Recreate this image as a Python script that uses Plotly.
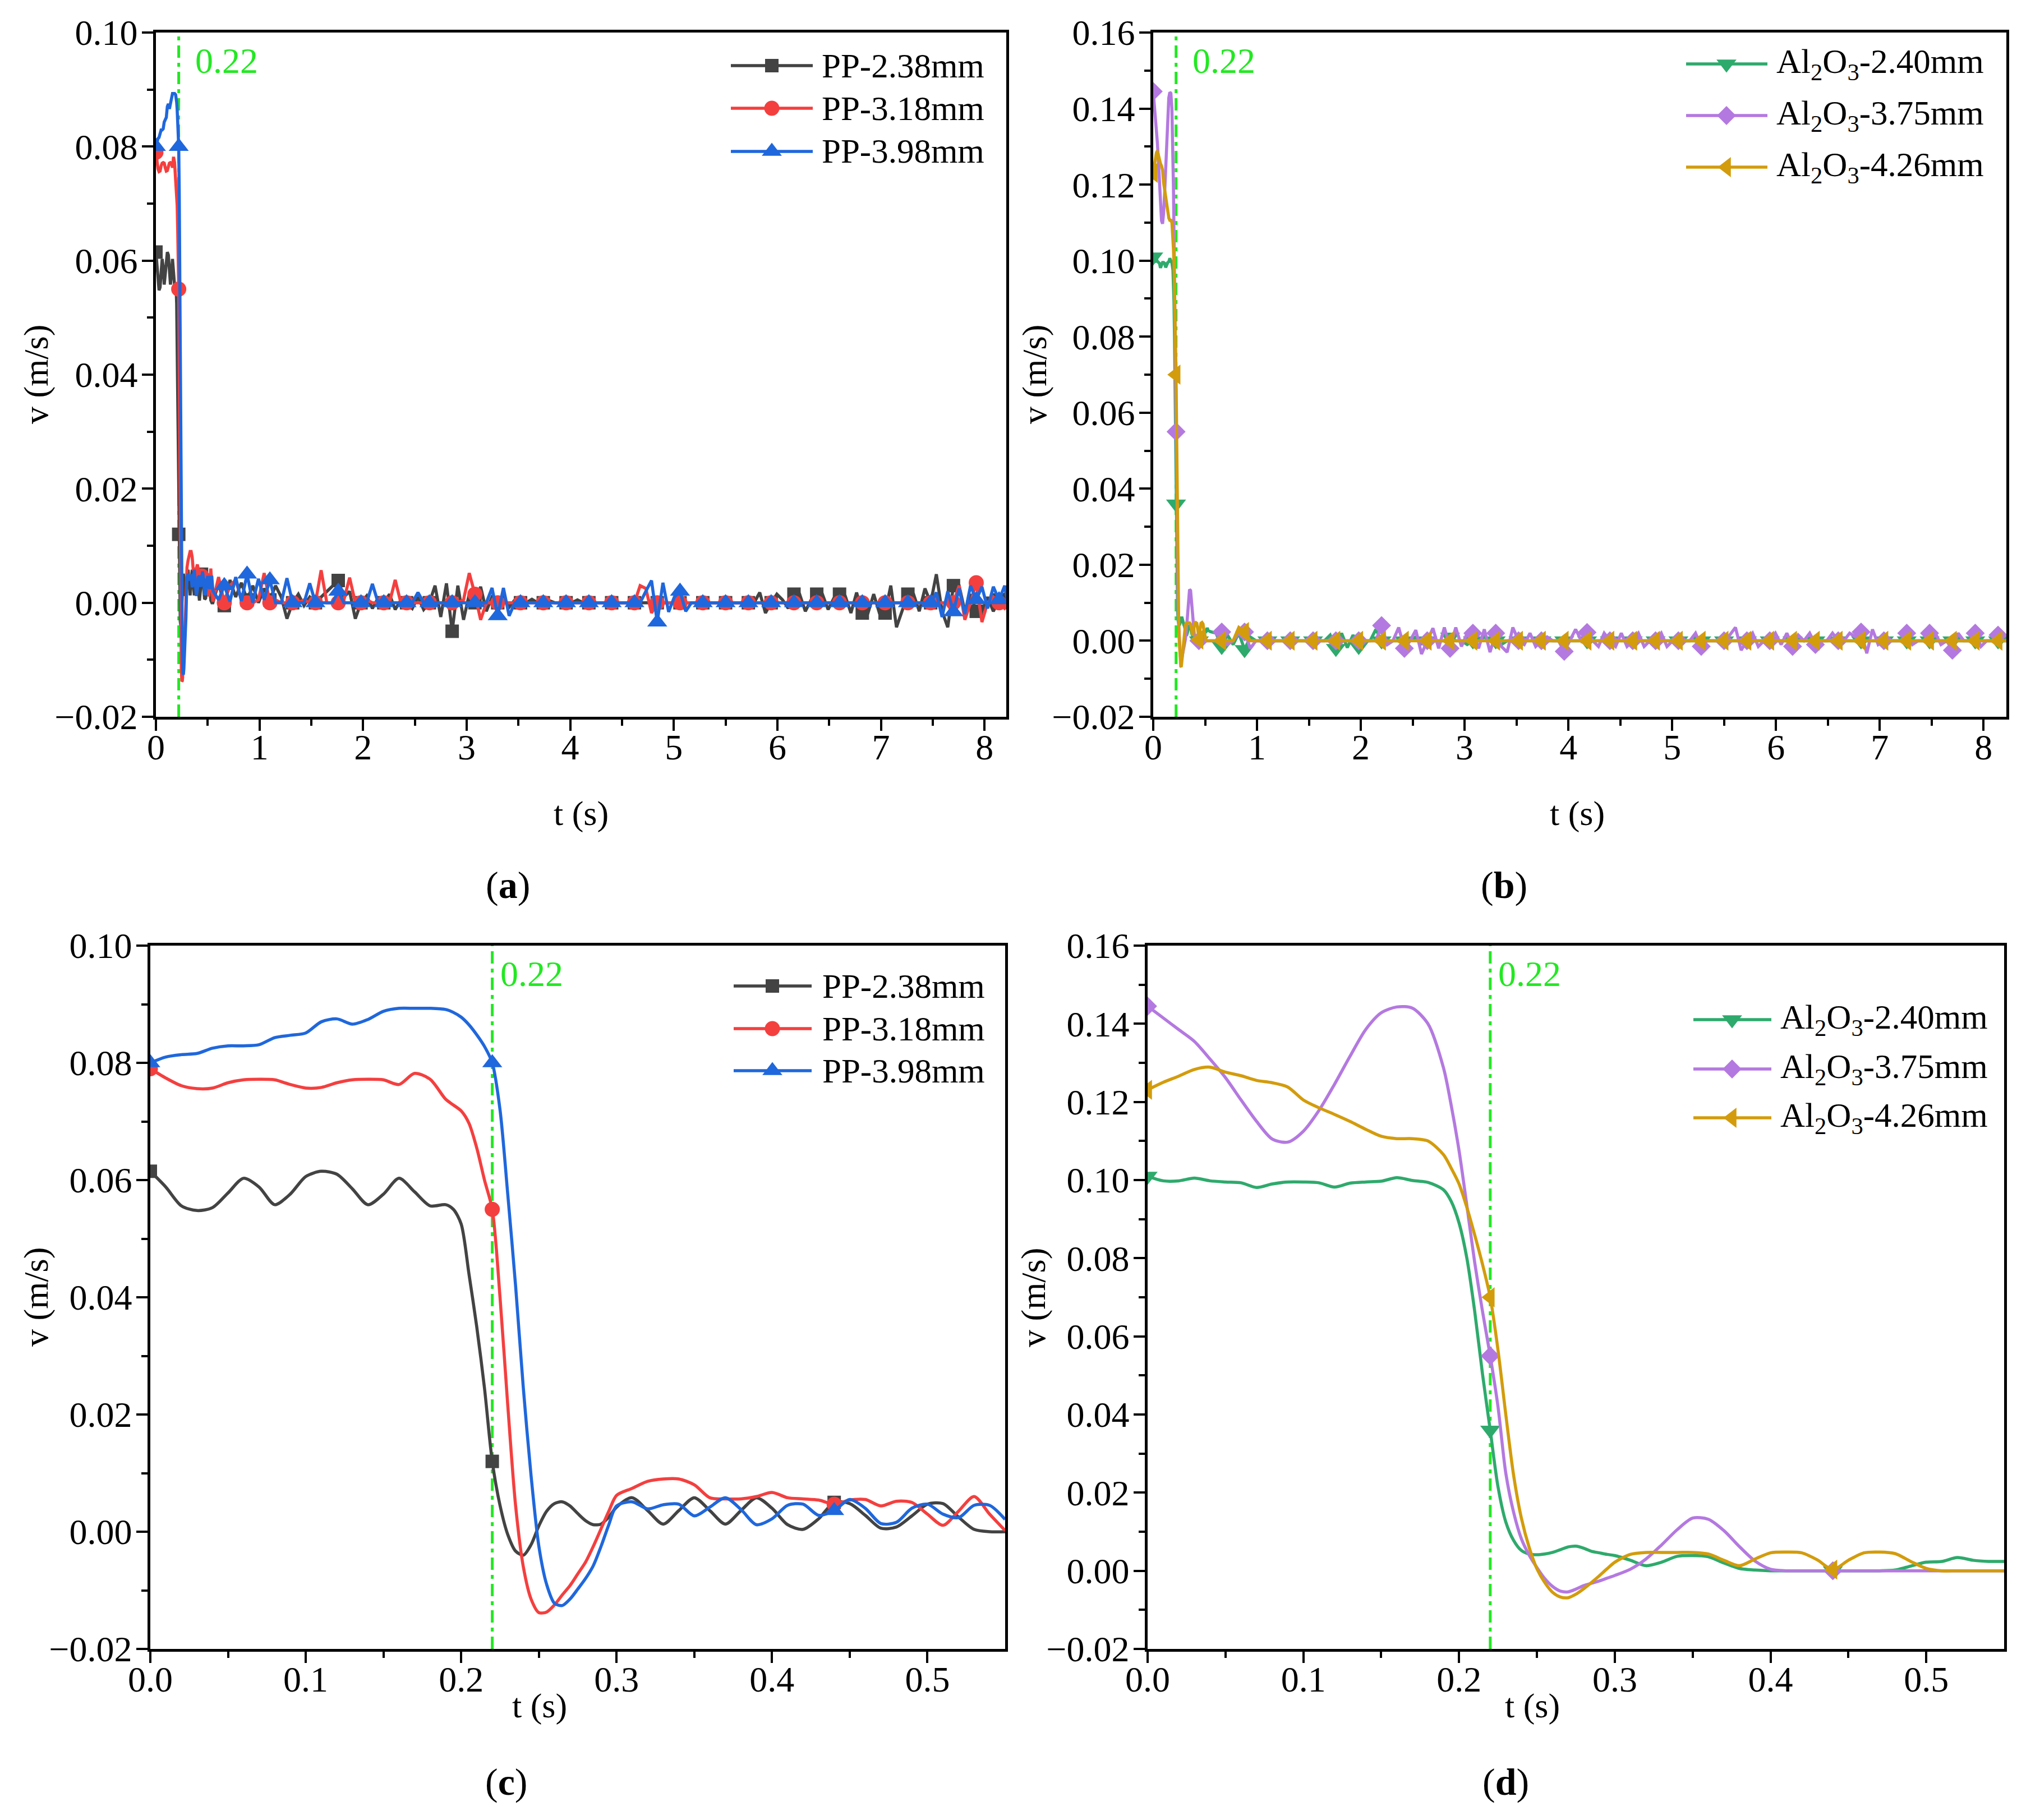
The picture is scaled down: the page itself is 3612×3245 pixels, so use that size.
import numpy as np
import plotly.graph_objects as go

W, H = 3612, 3245
FONT = "Liberation Serif"

# ---------------------------------------------------------------- data
# fine time base (s): panels (c)/(d) and the first 0.55 s of (a)/(b)
t_fine = [0.00, 0.01, 0.02, 0.03, 0.04, 0.05, 0.06, 0.07, 0.08, 0.09,
          0.10, 0.11, 0.12, 0.13, 0.14, 0.15, 0.16, 0.17, 0.18, 0.19,
          0.195, 0.20, 0.205, 0.21, 0.215, 0.22, 0.225, 0.23, 0.235, 0.24,
          0.245, 0.25, 0.255, 0.26, 0.265, 0.27, 0.275, 0.28, 0.285, 0.29,
          0.295, 0.30, 0.31, 0.32, 0.33, 0.34, 0.35, 0.36, 0.37, 0.38,
          0.39, 0.40, 0.41, 0.42, 0.43, 0.44, 0.45, 0.46, 0.47, 0.48,
          0.49, 0.50, 0.51, 0.52, 0.53, 0.54, 0.55]

# velocity (m/s) on t_fine
v_pp238_fine = [0.0615, 0.0588, 0.0556, 0.0548, 0.0553, 0.0578, 0.0603, 0.0588, 0.0558, 0.0576,
                0.0606, 0.0615, 0.0610, 0.0585, 0.0558, 0.0576, 0.0603, 0.0580, 0.0556, 0.0558,
                0.0550, 0.0525, 0.0440, 0.0350, 0.0245, 0.0120, 0.0045, -0.0005, -0.0033, -0.0040,
                -0.0022, 0.0010, 0.0035, 0.0048, 0.0051, 0.0044, 0.0031, 0.0019, 0.0012, 0.0013,
                0.0025, 0.0042, 0.0058, 0.0036, 0.0013, 0.0036, 0.0058, 0.0036, 0.0013, 0.0036,
                0.0058, 0.0040, 0.0012, 0.0004, 0.0022, 0.0050, 0.0048, 0.0028, 0.0006, 0.0008,
                0.0027, 0.0047, 0.0048, 0.0025, 0.0004, 0.0000, 0.0000]
v_pp318_fine = [0.0790, 0.0774, 0.0761, 0.0756, 0.0757, 0.0766, 0.0771, 0.0772, 0.0771, 0.0763,
                0.0757, 0.0758, 0.0766, 0.0771, 0.0772, 0.0771, 0.0763, 0.0782, 0.0772, 0.0738,
                0.0728, 0.0718, 0.0697, 0.0655, 0.0600, 0.0550, 0.0400, 0.0215, 0.0045, -0.0060,
                -0.0115, -0.0138, -0.0137, -0.0125, -0.0108, -0.0092, -0.0072, -0.0052, -0.0025, 0.0005,
                0.0035, 0.0062, 0.0074, 0.0086, 0.0090, 0.0090, 0.0080, 0.0058, 0.0056, 0.0056,
                0.0060, 0.0067, 0.0058, 0.0056, 0.0054, 0.0047, 0.0054, 0.0055, 0.0044, 0.0052,
                0.0050, 0.0030, 0.0011, 0.0035, 0.0060, 0.0030, 0.0002]
v_pp398_fine = [0.0800, 0.0810, 0.0814, 0.0816, 0.0825, 0.0829, 0.0829, 0.0831, 0.0843, 0.0847,
                0.0851, 0.0870, 0.0875, 0.0866, 0.0874, 0.0888, 0.0893, 0.0893, 0.0893, 0.0891,
                0.0886, 0.0878, 0.0865, 0.0848, 0.0828, 0.0800, 0.0720, 0.0575, 0.0420, 0.0245,
                0.0095, -0.0025, -0.0090, -0.0122, -0.0126, -0.0115, -0.0098, -0.0080, -0.0058, -0.0025,
                0.0012, 0.0044, 0.0051, 0.0039, 0.0046, 0.0047, 0.0027, 0.0042, 0.0058, 0.0038,
                0.0012, 0.0022, 0.0045, 0.0047, 0.0028, 0.0036, 0.0055, 0.0040, 0.0014, 0.0016,
                0.0040, 0.0047, 0.0030, 0.0024, 0.0045, 0.0045, 0.0021]
v_al240_fine = [0.1010, 0.0998, 0.0998, 0.1005, 0.0998, 0.0995, 0.0993, 0.0981, 0.0990, 0.0995,
                0.0995, 0.0993, 0.0982, 0.0992, 0.0995, 0.0997, 0.1006, 0.0999, 0.0994, 0.0975,
                0.0945, 0.0890, 0.0800, 0.0665, 0.0505, 0.0360, 0.0215, 0.0125, 0.0078, 0.0052,
                0.0043, 0.0041, 0.0043, 0.0047, 0.0054, 0.0061, 0.0063, 0.0058, 0.0050, 0.0046,
                0.0042, 0.0039, 0.0027, 0.0013, 0.0022, 0.0037, 0.0039, 0.0036, 0.0020, 0.0006,
                0.0002, 0.0000, 0.0000, 0.0000, 0.0000, 0.0000, 0.0000, 0.0000, 0.0000, 0.0002,
                0.0012, 0.0022, 0.0024, 0.0034, 0.0027, 0.0024, 0.0024]
v_al375_fine = [0.1445, 0.1415, 0.1385, 0.1355, 0.1310, 0.1262, 0.1205, 0.1150, 0.1105, 0.1097,
                0.1125, 0.1178, 0.1245, 0.1317, 0.1385, 0.1428, 0.1443, 0.1440, 0.1400, 0.1287,
                0.1190, 0.1075, 0.0935, 0.0790, 0.0665, 0.0550, 0.0420, 0.0250, 0.0150, 0.0082,
                0.0040, 0.0008, -0.0020, -0.0040, -0.0052, -0.0054, -0.0047, -0.0038, -0.0032, -0.0026,
                -0.0019, -0.0012, 0.0004, 0.0030, 0.0066, 0.0105, 0.0135, 0.0132, 0.0103, 0.0062,
                0.0025, 0.0004, 0.0000, 0.0000, 0.0000, 0.0000, 0.0000, 0.0000, 0.0000, 0.0000,
                0.0000, 0.0000, 0.0000, 0.0000, 0.0000, 0.0000, 0.0000]
v_al426_fine = [0.1231, 0.1250, 0.1266, 0.1283, 0.1289, 0.1276, 0.1267, 0.1255, 0.1249, 0.1238,
                0.1205, 0.1185, 0.1168, 0.1150, 0.1130, 0.1112, 0.1106, 0.1106, 0.1100, 0.1065,
                0.1030, 0.0990, 0.0930, 0.0860, 0.0785, 0.0700, 0.0565, 0.0400, 0.0245, 0.0135,
                0.0060, 0.0005, -0.0030, -0.0055, -0.0067, -0.0069, -0.0060, -0.0046, -0.0030, -0.0013,
                0.0005, 0.0022, 0.0042, 0.0047, 0.0047, 0.0047, 0.0047, 0.0043, 0.0027, 0.0013,
                0.0030, 0.0046, 0.0048, 0.0046, 0.0028, 0.0003, 0.0027, 0.0046, 0.0048, 0.0044,
                0.0024, 0.0006, 0.0000, 0.0000, 0.0000, 0.0000, 0.0000]

# tail, t = 0.605 ... 8.25 s every 0.055 s, velocity in mm/s
v_pp238_tail = [3.5, -0.5, 4.0, 1.0, 3.5, 0.5, 3.0, 0.0, 2.5, 0.5, 3.0, 1.0, -2.8, 0.0, 1.5, -0.5, 1.0, 0.0, 1.0, 2.0,
                3.0, 3.9, 1.0, 2.0, -2.8, 0.0, 1.2, -1.0, 0.8, 0.0, 1.5, -1.2, 0.5, 0.0, -1.0, 1.0, -1.2, 0.0, 3.0, -2.5,
                3.4, -5.0, 3.0, -3.0, 1.5, 0.0, 2.8, -1.5, 1.0, 0.0, 1.2, -0.8, 0.5, 0.0, 0.0, 0.6, 0.0, 0.0, 0.4, 0.0,
                0.0, 0.0, 0.0, 0.5, 0.0, 0.0, 0.0, 0.0, 0.0, 0.0, 0.0, 0.0, 0.0, 0.0, 0.0, 0.0, 0.0, 0.0, 0.0, 0.0,
                0.0, 0.0, 0.0, 0.0, 0.0, 0.0, 0.0, 0.0, 0.0, 0.0, 0.0, 0.0, 0.0, 0.0, 0.0, 1.8, -1.8, 0.0, 1.5, 0.5,
                -1.0, 1.5, 1.5, -1.5, 0.5, 1.5, 1.5, -1.2, 0.8, 1.5, 1.2, -1.8, 1.8, -1.8, -1.8, 1.5, -1.8, -1.8, 3.0, -4.3,
                -1.5, 1.5, 1.5, -1.5, 2.5, 0.0, 5.0, -1.5, -4.3, 3.0, 3.0, -1.5, 1.5, -1.5, -1.5, 1.0, -1.5, 0.5, 1.5, -1.0]
v_pp318_tail = [4.5, 0.0, 3.0, 4.0, 0.5, 0.0, 0.0, 0.5, 5.2, 0.0, 0.5, 0.0, 0.0, 0.0, 0.0, 0.5, 0.0, 0.0, 5.7, 0.0,
                0.0, 0.0, 0.5, 4.4, 0.0, 0.0, 0.5, 0.0, 0.0, 0.0, 0.0, 4.0, 0.0, 0.0, 0.0, 0.0, 0.0, 0.0, 0.0, 0.0,
                0.0, 0.0, 0.0, 0.5, 5.2, 1.5, -3.0, 0.0, 0.0, 0.0, 0.0, 0.0, 0.0, 0.0, 0.0, 0.0, 0.0, 0.0, 0.0, 0.0,
                0.0, 0.0, 0.0, 0.0, 0.0, 0.0, 0.0, 0.0, 0.0, 0.0, 0.0, 0.0, 0.0, 0.0, 3.0, 2.5, -1.8, 0.0, 0.0, 0.0,
                0.0, 0.0, 0.0, 0.0, 0.0, 0.0, 0.0, 0.0, 0.0, 0.0, 0.0, 0.0, 0.0, 0.0, 0.0, 0.0, 0.0, 0.0, 0.0, 0.0,
                0.0, 0.0, 0.0, 0.0, 0.0, 0.0, 0.0, 0.0, 0.0, 0.0, 0.0, 0.0, 0.0, 0.0, 0.0, 0.0, 0.0, 0.0, 0.0, 0.0,
                0.0, 0.0, 0.0, 0.0, 0.0, 0.0, 0.0, 0.0, 0.0, 0.0, 3.0, -3.0, 0.0, 3.5, -3.4, 0.0, 1.0, 0.0, -1.0, 0.0]
v_pp398_tail = [0.5, 3.0, 0.2, 4.5, 0.3, 5.0, 0.0, 4.2, 0.5, 4.0, 0.0, 0.0, 4.3, 0.0, 0.0, 0.0, 3.4, 0.0, 0.0, 0.0,
                0.0, 2.0, 0.0, 0.0, 0.0, 0.0, 0.0, 3.3, 0.0, 0.0, 0.0, 0.0, 0.0, 0.0, 0.0, 1.8, 0.0, 0.0, 0.0, 0.0,
                0.0, 0.0, 0.0, 0.0, 0.0, 0.0, 0.0, 0.0, 2.6, -2.3, 2.6, -2.3, 0.0, 0.0, 0.0, 0.0, 0.0, 0.0, 0.0, 0.0,
                0.0, 0.0, 0.0, 0.0, 0.0, 0.0, 0.0, 0.0, 0.0, 0.0, 0.0, 0.0, 0.0, 0.0, 0.0, 2.0, 3.9, -3.4, 3.5, -1.6,
                1.0, 2.0, -1.5, 0.0, 0.0, 0.0, 0.0, 0.0, 0.0, 0.0, 0.0, 0.0, 0.0, 0.0, 0.0, 0.0, 0.0, 0.0, 0.0, 0.0,
                0.0, 0.0, 0.0, 0.0, 0.0, 0.0, 0.0, 0.0, 0.0, 0.0, 0.0, 0.0, 0.0, 0.0, 0.0, 0.0, 0.0, 0.0, 0.0, 0.0,
                0.0, 0.0, 0.0, 0.0, 0.0, 0.0, 1.8, -2.5, 2.0, -1.6, 2.5, -2.0, 3.0, 0.5, 2.8, -1.0, 2.8, 0.5, 3.0, -2.5]
v_al240_tail = [2.0, -1.5, 1.5, -1.0, 2.0, -2.3, 1.0, 0.0, 0.0, 0.0, 0.0, 0.0, 0.0, 0.0, 0.0, 0.0, 0.0, 0.0, 0.0, 0.0,
                1.5, -2.0, 2.0, -1.8, 1.5, -1.5, 0.0, 0.0, 3.0, 0.0, -1.0, 0.0, 0.0, 0.0, 0.0, 1.0, -0.8, 0.0, 0.0, 0.0,
                0.0, 1.0, 0.0, 0.0, -1.0, 0.0, 0.0, 1.0, 0.0, 0.0, -1.0, 0.0, 0.0, 0.0, 0.0, 0.0, 0.0, 0.0, 0.0, 0.0,
                0.0, 0.0, 0.0, 0.0, 0.0, 0.0, 0.0, 0.0, 0.0, 0.0, 0.0, 0.0, 0.0, 0.0, 0.0, 0.0, 0.0, 0.0, 0.0, 0.0,
                0.0, 0.0, 0.0, 0.0, 0.0, 0.0, 0.0, 0.0, 0.0, 0.0, 0.0, 0.0, 0.0, 0.0, 0.0, 0.0, 0.0, 0.0, 0.0, 0.0,
                0.0, 0.0, 0.0, 0.0, 0.0, 0.0, 0.0, 0.0, 0.0, 0.0, 0.0, 0.0, 0.0, 0.0, 0.0, 0.0, 0.0, 0.0, 0.0, 0.0,
                0.0, 0.0, 0.0, 0.0, 0.0, 0.0, 0.0, 0.0, 0.0, 0.0, 0.0, 0.0, 0.0, 0.0, 0.0, 0.0, 0.0, 0.0, 0.0, 0.0]
v_al375_tail = [0.0, 2.3, -1.0, 0.0, 2.0, 2.3, -2.0, 0.0, 0.0, 0.0, 0.0, 0.0, 0.0, 0.0, 0.0, 0.0, 0.0, 0.0, 0.0, 0.0,
                0.0, 0.0, 0.0, 0.0, 0.0, 0.0, 0.0, 0.0, 0.0, 4.0, -1.0, 0.0, 3.5, -2.0, 0.0, 2.8, -3.5, 0.0, 3.3, -2.0,
                3.5, -2.0, 3.5, -1.5, 2.0, 2.0, -2.0, 3.0, -3.0, 2.0, -1.5, -3.0, 3.5, 0.0, -1.0, 2.0, -1.5, 0.0, 1.0, 0.0,
                0.0, -2.8, 0.0, 3.0, 0.0, 2.2, 0.0, -1.5, 2.0, 0.0, -1.5, 2.0, -1.5, 0.0, 2.0, -1.5, 0.0, 0.0, 2.0, -1.5,
                0.0, 0.0, 0.0, 0.0, 2.0, -1.5, 0.0, 0.0, 0.0, 0.0, 1.5, 3.5, -2.5, 0.0, 2.0, -1.5, 0.0, 0.0, 2.0, -1.0,
                2.0, -1.5, 1.5, 0.0, 2.0, -1.0, 0.0, 0.0, 2.0, 0.0, 0.0, 2.0, 1.0, 2.3, -3.3, 3.0, -1.0, 0.0, 0.0, 0.0,
                0.0, 2.0, -1.0, 0.0, 0.0, 2.0, 2.0, -1.0, 0.0, -2.5, 2.0, 0.0, 0.0, 2.0, -1.5, 0.0, 0.0, 1.5, 0.0, 0.0]
v_al426_tail = [0.0, 0.0, 0.0, 0.0, 3.5, 2.3, 0.0, 0.0, 0.0, 0.0, 0.0, 0.0, 0.0, 0.0, 0.0, 0.0, 0.0, 0.0, 0.0, 0.0,
                0.0, 0.0, 0.0, 0.0, 0.0, 0.0, 0.0, 0.0, 0.0, 0.0, 0.0, 0.0, 0.0, 0.0, 0.0, 0.0, 0.0, 0.0, 0.0, 0.0,
                0.0, 0.0, 0.0, 0.0, 0.0, 0.0, 0.0, 0.0, 0.0, 0.0, 0.0, 0.0, 0.0, 0.0, 0.0, 0.0, 0.0, 0.0, 0.0, 0.0,
                0.0, 0.0, 0.0, 0.0, 0.0, 0.0, 0.0, 0.0, 0.0, 0.0, 0.0, 0.0, 0.0, 0.0, 0.0, 0.0, 0.0, 0.0, 0.0, 0.0,
                0.0, 0.0, 0.0, 0.0, 0.0, 0.0, 0.0, 0.0, 0.0, 0.0, 0.0, 0.0, 0.0, 0.0, 0.0, 0.0, 0.0, 0.0, 0.0, 0.0,
                0.0, 0.0, 0.0, 0.0, 0.0, 0.0, 0.0, 0.0, 0.0, 0.0, 0.0, 0.0, 0.0, 0.0, 0.0, 0.0, 0.0, 0.0, 0.0, 0.0,
                0.0, 0.0, 0.0, 0.0, 0.0, 0.0, 0.0, 0.0, 0.0, 0.0, 0.0, 0.0, 0.0, 0.0, 0.0, 0.0, 0.0, 0.0, 0.0, 0.0]

TAIL_DT = 0.055          # sampling step of the tail (s)
T_EVENT = 0.22           # marked instant (s); symbols every 0.22 s
t_tail = [round(0.55 + TAIL_DT * k, 3) for k in range(1, len(v_pp238_tail) + 1)]

PP_SERIES = [
    ("PP-2.38mm", v_pp238_fine, v_pp238_tail, "#434343", "square", 24),
    ("PP-3.18mm", v_pp318_fine, v_pp318_tail, "#F43F3F", "circle", 27),
    ("PP-3.98mm", v_pp398_fine, v_pp398_tail, "#1F67DC", "triangle-up", 31),
]
AL_SERIES = [
    ("Al<sub>2</sub>O<sub>3</sub>-2.40mm", v_al240_fine, v_al240_tail, "#2EAA6C", "triangle-down", 31),
    ("Al<sub>2</sub>O<sub>3</sub>-3.75mm", v_al375_fine, v_al375_tail, "#B479E0", "diamond", 26),
    ("Al<sub>2</sub>O<sub>3</sub>-4.26mm", v_al426_fine, v_al426_tail, "#D39C0C", "triangle-left", 31),
]
VLINE_COLOR = "#22E822"
LINE_W = 5.5

# ---------------------------------------------------------------- layout geometry (pixels)
PANELS = {
    "a": dict(box=(278, 1794, 58, 1278), ax="", series=PP_SERIES, full=True,
              xr=[0, 8.21], xt=list(range(0, 9)), xmin=[k + 0.5 for k in range(8)], xfmt="d",
              yr=[-0.02, 0.10], txoff=27,
              leg=dict(rows=[117, 193, 270], line=(1303, 1449), mark=1376, text=1463),
              ytitle=(64, 668), xtitle=(1036, 1451), label=(905, 1578)),
    "b": dict(box=(2056, 3577, 58, 1278), ax="2", series=AL_SERIES, full=True,
              xr=[0, 8.22], xt=list(range(0, 9)), xmin=[k + 0.5 for k in range(8)], xfmt="d",
              yr=[-0.02, 0.16], txoff=27,
              leg=dict(rows=[114, 206, 298], line=(3006, 3151), mark=3078, text=3165),
              ytitle=(1844, 668), xtitle=(2812, 1451), label=(2681, 1578)),
    "c": dict(box=(268, 1792, 1686, 2940), ax="3", series=PP_SERIES, full=False,
              xr=[0, 0.55], xt=[0.0, 0.1, 0.2, 0.3, 0.4, 0.5], xmin=[0.05, 0.15, 0.25, 0.35, 0.45],
              xfmt=".1f", yr=[-0.02, 0.10], txoff=12,
              leg=dict(rows=[1758, 1834, 1909], line=(1308, 1447), mark=1377, text=1464),
              ytitle=(64, 2313), xtitle=(962, 3041), label=(903, 3177)),
    "d": dict(box=(2046, 3573, 1686, 2940), ax="4", series=AL_SERIES, full=False,
              xr=[0, 0.55], xt=[0.0, 0.1, 0.2, 0.3, 0.4, 0.5], xmin=[0.05, 0.15, 0.25, 0.35, 0.45],
              xfmt=".1f", yr=[-0.02, 0.16], txoff=12,
              leg=dict(rows=[1818, 1906, 1993], line=(3019, 3158), mark=3088, text=3172),
              ytitle=(1842, 2313), xtitle=(2732, 3041), label=(2684, 3177)),
}


def px(x):
    return x / W


def py(y):
    return 1 - y / H


fig = go.Figure()
layout = {}
annotations = []
shapes = []

tick_font = dict(family=FONT, size=64, color="black")


def axis_base():
    return dict(showline=True, linecolor="black", linewidth=4.5, mirror=True,
                ticks="outside", ticklen=20, tickwidth=4, tickcolor="black",
                showgrid=False, zeroline=False, tickfont=tick_font, fixedrange=True,
                automargin=False)


for key, p in PANELS.items():
    x0, x1, y0, y1 = p["box"]
    xa, ya = "x" + p["ax"], "y" + p["ax"]
    xname, yname = "xaxis" + p["ax"], "yaxis" + p["ax"]

    yt = [round(v, 2) for v in np.arange(p["yr"][0], p["yr"][1] + 1e-9, 0.02)]
    ymin = [round(v + 0.01, 3) for v in yt[:-1]]

    xd = axis_base()
    xd.update(domain=[px(x0), px(x1)], range=p["xr"], anchor=ya, tickmode="array",
              tickvals=p["xt"], tickformat=p["xfmt"], ticklabelstandoff=-26,
              minor=dict(ticks="outside", ticklen=11, tickwidth=4, tickcolor="black",
                         tickvals=p["xmin"], showgrid=False))
    yd = axis_base()
    yd.update(domain=[py(y1), py(y0)], range=p["yr"], anchor=xa, tickmode="array",
              tickvals=yt, tickformat=".2f", ticklabelstandoff=-5,
              minor=dict(ticks="outside", ticklen=11, tickwidth=4, tickcolor="black",
                         tickvals=ymin, showgrid=False))
    layout[xname] = xd
    layout[yname] = yd

    # event line at t = 0.22 s
    shapes.append(dict(type="line", xref=xa, yref=ya + " domain",
                       x0=T_EVENT, x1=T_EVENT, y0=0, y1=1, layer="below",
                       line=dict(color=VLINE_COLOR, width=5, dash="22px,9px,7px,9px")))
    annotations.append(dict(xref=xa, yref=ya + " domain", x=T_EVENT,
                            y=1 - 50 / (y1 - y0), xanchor="left", yanchor="middle",
                            xshift=p["txoff"], text="0.22", showarrow=False,
                            font=dict(family=FONT, size=64, color=VLINE_COLOR)))

    # data
    for name, vf, vt, color, sym, msz in p["series"]:
        if p["full"]:
            t = np.array(t_fine + t_tail)
            v = np.array(vf + [x / 1000.0 for x in vt])
            line = dict(color=color, width=LINE_W, shape="linear")
        else:
            t = np.array(t_fine)
            v = np.array(vf)
            line = dict(color=color, width=LINE_W, shape="spline", smoothing=0.8)
        fig.add_trace(go.Scatter(x=t, y=v, mode="lines", xaxis=xa, yaxis=ya, line=line,
                                 showlegend=False, hoverinfo="skip"))
        k = t / T_EVENT
        m = np.isclose(k, np.round(k), atol=1e-6)
        fig.add_trace(go.Scatter(x=t[m], y=v[m], mode="markers", xaxis=xa, yaxis=ya,
                                 marker=dict(symbol=sym, size=msz, color=color, line=dict(width=0)),
                                 showlegend=False, hoverinfo="skip"))

    # legend (samples drawn on a full-page pixel overlay axis)
    lg = p["leg"]
    for (name, vf, vt, color, sym, msz), yc in zip(p["series"], lg["rows"]):
        fig.add_trace(go.Scatter(x=list(lg["line"]), y=[yc, yc], mode="lines", xaxis="x5", yaxis="y5",
                                 line=dict(color=color, width=LINE_W), showlegend=False, hoverinfo="skip"))
        fig.add_trace(go.Scatter(x=[lg["mark"]], y=[yc], mode="markers", xaxis="x5", yaxis="y5",
                                 marker=dict(symbol=sym, size=msz, color=color, line=dict(width=0)),
                                 showlegend=False, hoverinfo="skip"))
        annotations.append(dict(xref="paper", yref="paper", x=px(lg["text"]), y=py(yc),
                                xanchor="left", yanchor="middle", text=name, showarrow=False,
                                font=dict(family=FONT, size=61, color="black")))

    # titles & panel label
    annotations.append(dict(xref="paper", yref="paper", x=px(p["ytitle"][0]), y=py(p["ytitle"][1]),
                            text="v (m/s)", textangle=-90, showarrow=False, xanchor="center",
                            yanchor="middle", font=dict(family=FONT, size=62, color="black")))
    annotations.append(dict(xref="paper", yref="paper", x=px(p["xtitle"][0]), y=py(p["xtitle"][1]),
                            text="t (s)", showarrow=False, xanchor="center", yanchor="middle",
                            font=dict(family=FONT, size=62, color="black")))
    annotations.append(dict(xref="paper", yref="paper", x=px(p["label"][0]), y=py(p["label"][1]),
                            text="(<b>%s</b>)" % key, showarrow=False, xanchor="center",
                            yanchor="middle", font=dict(family=FONT, size=68, color="black")))

layout["xaxis5"] = dict(domain=[0, 1], range=[0, W], visible=False, anchor="y5", fixedrange=True)
layout["yaxis5"] = dict(domain=[0, 1], range=[H, 0], visible=False, anchor="x5", fixedrange=True)

fig.update_layout(**layout)
fig.update_layout(width=W, height=H,
                  margin=dict(l=0, r=0, t=0, b=0, pad=0, autoexpand=False),
                  paper_bgcolor="white", plot_bgcolor="rgba(0,0,0,0)",
                  showlegend=False, annotations=annotations, shapes=shapes,
                  font=dict(family=FONT, color="black"))

fig.write_html("out.html")
